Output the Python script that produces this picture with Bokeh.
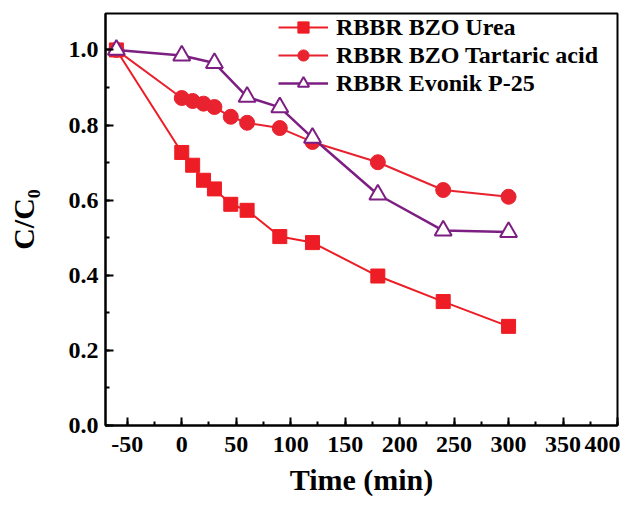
from bokeh.plotting import figure
from bokeh.models import (Range1d, SingleIntervalTicker, Legend, LegendItem,
                          NumeralTickFormatter, PrintfTickFormatter)
from bokeh.embed import file_html
from bokeh.resources import INLINE

# ---- data ----
time_urea = [-60, 0, 10, 20, 30, 45, 60, 90, 120, 180, 240, 300]
urea = [1.0, 0.727, 0.693, 0.653, 0.630, 0.589, 0.573, 0.503, 0.487, 0.398, 0.330, 0.264]

time_tart = [-60, 0, 10, 20, 30, 45, 60, 90, 120, 180, 240, 300]
tartaric = [1.0, 0.872, 0.864, 0.857, 0.848, 0.822, 0.806, 0.792, 0.755, 0.701, 0.627, 0.609]

time_evonik = [-60, 0, 30, 60, 90, 120, 180, 240, 300]
evonik = [1.0, 0.985, 0.965, 0.875, 0.847, 0.766, 0.615, 0.519, 0.515]

series_names = ["RBBR BZO Urea", "RBBR BZO Tartaric acid", "RBBR Evonik P-25"]
x_title = "Time (min)"
y_title = "C/C\u2080"

FONT = "Liberation Serif"
RED1 = "#ee1c24"
RED2 = "#e8232f"
PURPLE = "#7d1f82"

p = figure(width=620, height=498, output_backend="svg", toolbar_location=None,
           x_range=Range1d(-70, 400), y_range=Range1d(0, 1.097),
           min_border_left=105, min_border_right=3, min_border_top=13, min_border_bottom=72)

p.background_fill_color = "white"
p.border_fill_color = "white"
p.xgrid.visible = False
p.ygrid.visible = False
p.outline_line_color = "black"
p.outline_line_width = 2

# axes
p.xaxis.ticker = SingleIntervalTicker(interval=50, num_minor_ticks=2)
p.yaxis.ticker = SingleIntervalTicker(interval=0.2, num_minor_ticks=2)
p.xaxis.formatter = PrintfTickFormatter(format="%d")
p.yaxis.formatter = NumeralTickFormatter(format="0.0")
for ax in (p.xaxis, p.yaxis):
    ax.axis_line_width = 2
    ax.axis_line_color = "black"
    ax.major_tick_in = 8
    ax.major_tick_out = 0
    ax.minor_tick_in = 4
    ax.minor_tick_out = 0
    ax.major_tick_line_width = 2
    ax.minor_tick_line_width = 2
    ax.major_label_text_font = FONT
    ax.major_label_text_font_style = "bold"
    ax.major_label_text_font_size = "24px"
    ax.major_label_text_color = "black"
    ax.axis_label_text_font = FONT
    ax.axis_label_text_font_style = "bold"
    ax.axis_label_text_font_size = "30px"
    ax.axis_label_text_color = "black"
p.xaxis.major_label_standoff = 11
p.yaxis.major_label_standoff = 7
p.xaxis.axis_label = x_title
p.xaxis.axis_label_standoff = 8
p.yaxis.axis_label = y_title
p.yaxis.axis_label_standoff = 26

# series
l1 = p.line(time_urea, urea, line_color=RED1, line_width=2)
s1 = p.scatter(time_urea, urea, marker="square", size=14, fill_color=RED1, line_color=RED1)

l2 = p.line(time_tart, tartaric, line_color=RED2, line_width=2)
s2 = p.scatter(time_tart, tartaric, marker="circle", size=15, fill_color=RED2, line_color=RED2)

l3 = p.line(time_evonik, evonik, line_color=PURPLE, line_width=2.5)
s3 = p.scatter(time_evonik, evonik, marker="triangle", size=17, fill_color="white",
               line_color=PURPLE, line_width=2)

legend = Legend(items=[
    LegendItem(label=series_names[0], renderers=[l1, s1]),
    LegendItem(label=series_names[1], renderers=[l2, s2]),
    LegendItem(label=series_names[2], renderers=[l3, s3]),
], location=(173, 328))
legend.border_line_color = None
legend.background_fill_alpha = 0
legend.padding = 2
legend.margin = 0
legend.spacing = 0
legend.glyph_width = 50
legend.glyph_height = 28
legend.label_height = 20
legend.label_standoff = 8
legend.label_text_font = FONT
legend.label_text_font_style = "bold"
legend.label_text_font_size = "24px"
legend.label_text_color = "black"
p.add_layout(legend, "center")

open("out.html", "w").write(file_html(p, INLINE))
